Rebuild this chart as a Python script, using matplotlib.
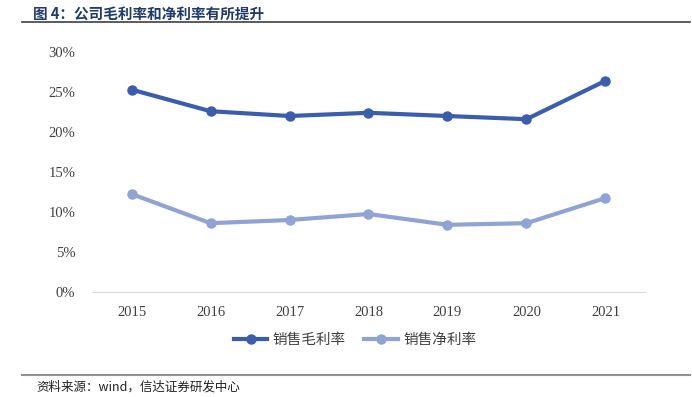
import numpy as np
import matplotlib.pyplot as plt
from matplotlib.lines import Line2D

years = ["2015", "2016", "2017", "2018", "2019", "2020", "2021"]
gross_margin = [25.3, 22.6, 22.0, 22.4, 22.0, 21.6, 26.4]
net_margin = [12.25, 8.6, 9.0, 9.75, 8.4, 8.6, 11.75]
series_names = ["销售毛利率", "销售净利率"]

cjk = ["Noto Sans CJK SC", "DejaVu Sans"]
dark = "#3a5ead"
light = "#8fa3d5"

fig = plt.figure(figsize=(6.92, 3.97), dpi=100)
ax = fig.add_axes([0.133, 0.2645, 0.799, 0.6045])

x = np.arange(len(years))
ax.plot(x, gross_margin, color=dark, lw=3, marker="o", ms=6.5)
ax.plot(x, net_margin, color=light, lw=3, marker="o", ms=6.5)

ax.set_xlim(-0.5, len(years) - 0.5)
ax.set_ylim(0, 30)
ax.set_yticks(np.arange(0, 31, 5))
ax.set_yticklabels([f"{v}%" for v in range(0, 31, 5)])
ax.set_xticks(x)
ax.set_xticklabels(years)
for lab in ax.get_xticklabels() + ax.get_yticklabels():
    lab.set_family("Liberation Serif")
    lab.set_fontsize(10.5)
    lab.set_color("#404040")
ax.tick_params(length=0)
ax.tick_params(axis="x", pad=10)
ax.tick_params(axis="y", pad=12)
for s in ["top", "right", "left"]:
    ax.spines[s].set_visible(False)
ax.spines["bottom"].set_color("#d9d9d9")

handles = [Line2D([], [], color=dark, lw=3, marker="o", ms=6.5),
           Line2D([], [], color=light, lw=3, marker="o", ms=6.5)]
fig.legend(handles, series_names, loc="center", bbox_to_anchor=(0.513, 0.143),
           ncol=2, frameon=False, handlelength=2.3, handletextpad=0.35,
           columnspacing=1.3, prop={"family": cjk, "size": 10.5})
for t in fig.legends[0].get_texts():
    t.set_color("#404040")

fig.text(0.048, 0.965, "图 4：公司毛利率和净利率有所提升", family=cjk, fontsize=10.5,
         fontweight="bold", color="#1f3a6e", va="center")
fig.add_artist(Line2D([0.032, 0.997], [0.944, 0.944], color="#404040", lw=1.2))
fig.add_artist(Line2D([0.032, 0.997], [0.055, 0.055], color="#909090", lw=1.5))
fig.text(0.052, 0.025, "资料来源：wind，信达证券研发中心", family=cjk, fontsize=9,
         style="italic", color="#222222", va="center")

fig.savefig("out.png", dpi=100)
